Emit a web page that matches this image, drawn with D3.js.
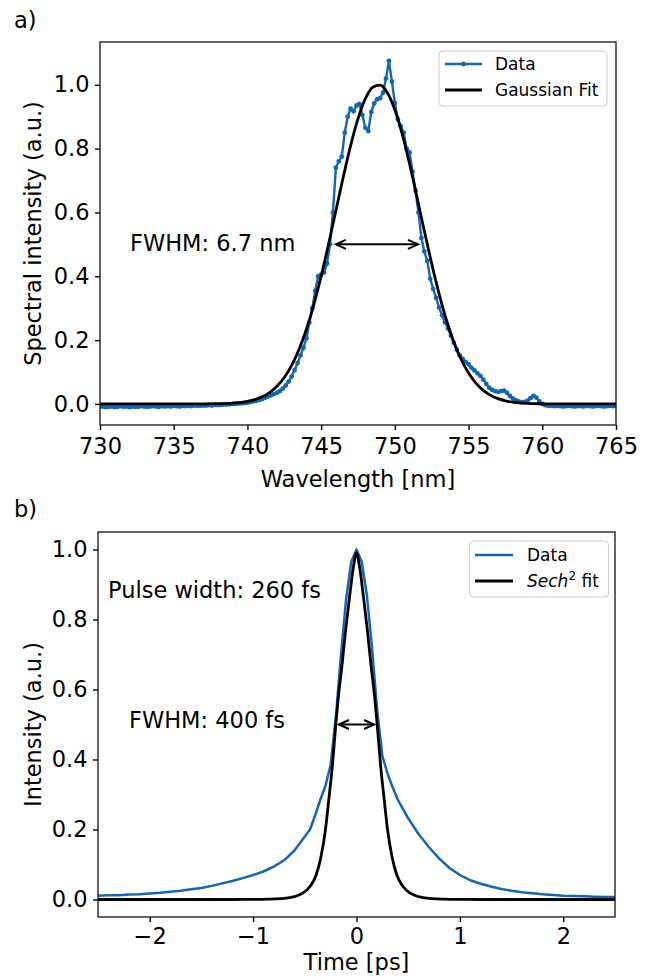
<!DOCTYPE html>
<html><head><meta charset="utf-8">
<script src="https://cdn.jsdelivr.net/npm/d3@7"></script>
<style>
body{margin:0;background:#fff}
svg{display:block}
text{font-family:"DejaVu Sans",sans-serif;fill:#000}
</style>
</head><body>
<svg id="c" width="651" height="977"></svg>
<script>
// ---------------- DATA ----------------
// Panel a: measured spectrum (wavelength in nm, normalised intensity)
const wavelengths = [
730,730.2,730.4,730.6,730.8,731,731.2,731.4,731.6,731.8,
732,732.2,732.4,732.6,732.8,733,733.2,733.4,733.6,733.8,
734,734.2,734.4,734.6,734.8,735,735.2,735.4,735.6,735.8,
736,736.2,736.4,736.6,736.8,737,737.2,737.4,737.6,737.8,
738,738.2,738.4,738.6,738.8,739,739.2,739.4,739.6,739.8,
740,740.2,740.4,740.6,740.8,741,741.2,741.4,741.6,741.8,
742,742.2,742.4,742.6,742.8,743,743.2,743.4,743.6,743.8,
744,744.2,744.4,744.6,744.8,745,745.2,745.4,745.6,745.8,
746,746.2,746.4,746.6,746.8,747,747.2,747.4,747.6,747.8,
748,748.2,748.4,748.6,748.8,749,749.2,749.4,749.6,749.8,
750,750.2,750.4,750.6,750.8,751,751.2,751.4,751.6,751.8,
752,752.2,752.4,752.6,752.8,753,753.2,753.4,753.6,753.8,
754,754.2,754.4,754.6,754.8,755,755.2,755.4,755.6,755.8,
756,756.2,756.4,756.6,756.8,757,757.2,757.4,757.6,757.8,
758,758.2,758.4,758.6,758.8,759,759.2,759.4,759.6,759.8,
760,760.2,760.4,760.6,760.8,761,761.2,761.4,761.6,761.8,
762,762.2,762.4,762.6,762.8,763,763.2,763.4,763.6,763.8,
764,764.2,764.4,764.6,764.8,765];
const spectrum = [
-0.009,-0.008,-0.010,-0.009,-0.008,-0.010,-0.009,-0.007,-0.009,-0.008,
-0.010,-0.008,-0.009,-0.009,-0.007,-0.008,-0.009,-0.008,-0.007,-0.008,
-0.009,-0.007,-0.008,-0.007,-0.008,-0.006,-0.007,-0.008,-0.006,-0.007,
-0.006,-0.007,-0.005,-0.006,-0.006,-0.005,-0.005,-0.004,-0.005,-0.003,
-0.004,-0.003,-0.002,-0.002,-0.001,0.000,0.000,0.001,0.002,0.003,
0.004,0.006,0.008,0.010,0.012,0.015,0.019,0.023,0.027,0.031,
0.035,0.040,0.048,0.058,0.070,0.086,0.106,0.128,0.152,0.176,
0.205,0.255,0.300,0.355,0.400,0.405,0.412,0.440,0.500,0.600,
0.740,0.760,0.775,0.850,0.900,0.925,0.917,0.935,0.940,0.905,
0.865,0.855,0.915,0.942,0.955,0.958,0.975,1.020,1.075,1.010,
0.943,0.892,0.870,0.850,0.800,0.788,0.728,0.668,0.600,0.520,
0.478,0.448,0.392,0.360,0.332,0.302,0.278,0.256,0.236,0.214,
0.192,0.170,0.152,0.141,0.132,0.124,0.113,0.105,0.096,0.088,
0.076,0.063,0.051,0.044,0.040,0.038,0.040,0.042,0.035,0.025,
0.017,0.012,0.008,0.005,0.006,0.010,0.018,0.025,0.020,0.008,
0.000,-0.004,-0.006,-0.006,-0.007,-0.006,-0.007,-0.008,-0.007,-0.006,
-0.007,-0.008,-0.007,-0.007,-0.008,-0.006,-0.007,-0.008,-0.007,-0.006,
-0.007,-0.008,-0.007,-0.006,-0.007,-0.007];
// Panel a: Gaussian fit curve
const gaussWl  = [730,737,738,739,740,740.5,741,741.5,742,742.5,743,743.5,744,744.5,745,745.5,746,746.5,747,747.5,748,748.5,749,749.5,750,750.5,751,751.5,752,752.5,753,753.5,754,754.5,755,755.5,756,756.5,757,757.5,758,759,760,761,765];
const gaussFit = [0,0.0002,0.0007,0.0025,0.0079,0.0135,0.0222,0.0355,0.0551,0.0828,0.1208,0.1707,0.2339,0.3107,0.4002,0.4999,0.6054,0.7110,0.8095,0.8935,0.9563,0.9925,0.9986,0.9742,0.9215,0.8452,0.7516,0.6480,0.5417,0.4391,0.3451,0.2630,0.1943,0.1392,0.0967,0.0651,0.0425,0.0269,0.0165,0.0098,0.0057,0.0017,0.0005,0.0001,0];

// Panel b: autocorrelation trace (time in ps)
const timeData = [-2.5,-2.4,-2.3,-2.2,-2.1,-2.0,-1.9,-1.8,-1.7,-1.6,-1.5,-1.4,-1.3,-1.2,-1.1,-1.0,-0.9,-0.8,-0.7,-0.6,-0.5,-0.45,-0.4,-0.35,-0.3,-0.25,-0.2,-0.15,-0.1,-0.05,0,0.05,0.1,0.15,0.2,0.25,0.3,0.35,0.4,0.45,0.5,0.6,0.7,0.8,0.9,1.0,1.1,1.2,1.3,1.4,1.5,1.6,1.7,1.8,1.9,2.0,2.1,2.2,2.3,2.4,2.5];
const intensityData = [0.011,0.012,0.012,0.014,0.015,0.017,0.019,0.022,0.025,0.029,0.033,0.039,0.046,0.053,0.061,0.070,0.080,0.094,0.112,0.140,0.180,0.200,0.240,0.285,0.325,0.385,0.520,0.700,0.860,0.965,1.000,0.965,0.870,0.720,0.540,0.410,0.360,0.320,0.285,0.258,0.232,0.187,0.150,0.117,0.090,0.070,0.055,0.045,0.037,0.030,0.025,0.021,0.018,0.015,0.013,0.011,0.010,0.009,0.008,0.007,0.007];
// Panel b: Sech^2 fit
const timeFit = [-2.5,-1.2,-1.0,-0.85,-0.7,-0.6,-0.52,-0.45,-0.39,-0.345,-0.3,-0.27,-0.234,-0.2,-0.175,-0.14,-0.105,-0.065,-0.03,0,0.03,0.065,0.105,0.14,0.175,0.2,0.234,0.27,0.3,0.345,0.39,0.45,0.52,0.6,0.7,0.85,1.0,1.2,2.5];
const sechFit  = [0,0,0.0003,0.001,0.003,0.008,0.018,0.037,0.07,0.12,0.2,0.28,0.38,0.5,0.58,0.67,0.77,0.87,0.95,0.99,0.95,0.87,0.77,0.67,0.58,0.5,0.38,0.28,0.2,0.12,0.07,0.037,0.018,0.008,0.003,0.001,0.0003,0,0];

// Ticks
const wlTicks   = [730,735,740,745,750,755,760,765];
const timeTicks = [-2,-1,0,1,2];
const yTicks    = [0,0.2,0.4,0.6,0.8,1.0];

// ---------------- DRAW ----------------
const svg = d3.select('#c');
const BLUE = '#1565b0';
const FS = 22.5;

function axes(g, x, y, xt, yt, xfmt, xpad, clipId){
  const [x0,x1] = x.range(), [y0,y1] = y.range();
  g.append('clipPath').attr('id',clipId).append('rect')
    .attr('x',x0).attr('y',y1).attr('width',x1-x0).attr('height',y0-y1);
  const ax = g.append('g').attr('transform',`translate(0,${y0})`)
    .call(d3.axisBottom(x).tickValues(xt).tickSize(5).tickPadding(xpad).tickFormat(xfmt));
  const ay = g.append('g').attr('transform',`translate(${x0},0)`)
    .call(d3.axisLeft(y).tickValues(yt).tickSize(5).tickPadding(5.5).tickFormat(d3.format('.1f')));
  [ax,ay].forEach(a=>{
    a.select('.domain').remove();
    a.selectAll('.tick line').attr('stroke','#000').attr('stroke-width',1.4);
    a.selectAll('.tick text').attr('font-size',FS).attr('font-family','"DejaVu Sans",sans-serif').attr('fill','#000');
  });
}
function frame(g, x, y){
  const [x0,x1] = x.range(), [y0,y1] = y.range();
  g.append('rect').attr('x',x0).attr('y',y1).attr('width',x1-x0).attr('height',y0-y1)
    .attr('fill','none').attr('stroke','#222').attr('stroke-width',1.4);
}
function dblArrow(g, xa, xb, yy){
  g.append('line').attr('x1',xa).attr('x2',xb).attr('y1',yy).attr('y2',yy)
    .attr('stroke','#000').attr('stroke-width',2);
  g.append('path').attr('d',`M${xa+10},${yy-4.5}L${xa},${yy}L${xa+10},${yy+4.5}`)
    .attr('fill','none').attr('stroke','#000').attr('stroke-width',2);
  g.append('path').attr('d',`M${xb-10},${yy-4.5}L${xb},${yy}L${xb-10},${yy+4.5}`)
    .attr('fill','none').attr('stroke','#000').attr('stroke-width',2);
}

// ---- Panel a ----
const gA = svg.append('g');
const xA = d3.scaleLinear().domain([730,765]).range([100,616]);
const yA = d3.scaleLinear().domain([-0.066,1.134]).range([425,42]);
axes(gA, xA, yA, wlTicks, yTicks, d3.format('d'), 8, 'clipA');
const specPts = wavelengths.map((w,i)=>({x:w,y:spectrum[i]}));
const plotA = gA.append('g').attr('clip-path','url(#clipA)');
plotA.append('path').datum(specPts)
  .attr('d', d3.line().x(d=>xA(d.x)).y(d=>yA(d.y)))
  .attr('fill','none').attr('stroke',BLUE).attr('stroke-width',2.4).attr('stroke-linejoin','round');
plotA.selectAll('circle.m').data(specPts).join('circle').attr('class','m')
  .attr('cx',d=>xA(d.x)).attr('cy',d=>yA(d.y)).attr('r',2.4).attr('fill',BLUE);
const gaussPts = gaussWl.map((w,i)=>({x:w,y:gaussFit[i]}));
plotA.append('path').datum(gaussPts)
  .attr('d', d3.line().curve(d3.curveMonotoneX).x(d=>xA(d.x)).y(d=>yA(d.y)))
  .attr('fill','none').attr('stroke','#000').attr('stroke-width',2.8);
frame(gA, xA, yA);
gA.append('text').attr('x',130).attr('y',251).attr('font-size',FS).text('FWHM: 6.7 nm');
dblArrow(gA, xA(746.0), xA(751.57), yA(0.5));
gA.append('text').attr('transform',`translate(41,${(42+425)/2}) rotate(-90)`)
  .attr('text-anchor','middle').attr('font-size',FS).text('Spectral intensity (a.u.)');
gA.append('text').attr('x',(100+616)/2).attr('y',487).attr('text-anchor','middle')
  .attr('font-size',FS).text('Wavelength [nm]');
gA.append('text').attr('x',14).attr('y',28).attr('font-size',FS).text('a)');
// legend a
const lA = gA.append('g');
lA.append('rect').attr('x',439).attr('y',51).attr('width',168).attr('height',55).attr('rx',4)
  .attr('fill','#fff').attr('fill-opacity',0.8).attr('stroke','#cccccc').attr('stroke-width',1);
lA.append('line').attr('x1',445).attr('x2',482).attr('y1',64).attr('y2',64).attr('stroke',BLUE).attr('stroke-width',2.4);
lA.append('circle').attr('cx',463.5).attr('cy',64).attr('r',2.4).attr('fill',BLUE);
lA.append('text').attr('x',495).attr('y',70).attr('font-size',17).text('Data');
lA.append('line').attr('x1',445).attr('x2',482).attr('y1',90).attr('y2',90).attr('stroke','#000').attr('stroke-width',2.8);
lA.append('text').attr('x',495).attr('y',96).attr('font-size',17).text('Gaussian Fit');

// ---- Panel b ----
const gB = svg.append('g');
const xB = d3.scaleLinear().domain([-2.5,2.5]).range([98,615]);
const yB = d3.scaleLinear().domain([-0.05,1.05]).range([917,532]);
axes(gB, xB, yB, timeTicks, yTicks, d3.format('d'), 6, 'clipB');
const plotB = gB.append('g').attr('clip-path','url(#clipB)');
plotB.append('path').datum(timeData.map((t,i)=>({x:t,y:intensityData[i]})))
  .attr('d', d3.line().x(d=>xB(d.x)).y(d=>yB(d.y)))
  .attr('fill','none').attr('stroke',BLUE).attr('stroke-width',2.5).attr('stroke-linejoin','round');
plotB.append('path').datum(timeFit.map((t,i)=>({x:t,y:sechFit[i]})))
  .attr('d', d3.line().curve(d3.curveMonotoneX).x(d=>xB(d.x)).y(d=>yB(d.y)))
  .attr('fill','none').attr('stroke','#000').attr('stroke-width',2.8);
frame(gB, xB, yB);
gB.append('text').attr('x',108).attr('y',598).attr('font-size',FS).text('Pulse width: 260 fs');
gB.append('text').attr('x',129).attr('y',728).attr('font-size',FS).text('FWHM: 400 fs');
dblArrow(gB, xB(-0.17), xB(0.17), yB(0.5));
gB.append('text').attr('transform',`translate(41,${(532+917)/2}) rotate(-90)`)
  .attr('text-anchor','middle').attr('font-size',FS).text('Intensity (a.u.)');
gB.append('text').attr('x',(98+615)/2).attr('y',970).attr('text-anchor','middle')
  .attr('font-size',FS).text('Time [ps]');
gB.append('text').attr('x',14).attr('y',517).attr('font-size',FS).text('b)');
// legend b
const lB = gB.append('g');
lB.append('rect').attr('x',469.5).attr('y',541).attr('width',139).attr('height',56).attr('rx',4)
  .attr('fill','#fff').attr('fill-opacity',0.8).attr('stroke','#cccccc').attr('stroke-width',1);
lB.append('line').attr('x1',475).attr('x2',513).attr('y1',555).attr('y2',555).attr('stroke',BLUE).attr('stroke-width',2.5);
lB.append('text').attr('x',527).attr('y',561).attr('font-size',17).text('Data');
lB.append('line').attr('x1',475).attr('x2',513).attr('y1',581).attr('y2',581).attr('stroke','#000').attr('stroke-width',2.8);
const st = lB.append('text').attr('x',527).attr('y',587).attr('font-size',17);
st.append('tspan').attr('font-style','italic').text('Sech');
st.append('tspan').attr('font-size',12).attr('dy',-7).text('2');
st.append('tspan').attr('dy',7).text(' fit');
</script>
</body></html>
